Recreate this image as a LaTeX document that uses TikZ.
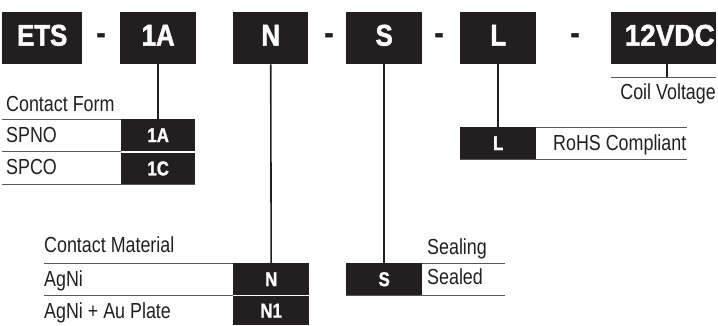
\documentclass[tikz,border=0pt]{standalone}
\usepackage{fontspec}
\newfontfamily\condf[FakeStretch=0.82]{Liberation Sans}
\newfontfamily\condbf[FakeStretch=0.86,FakeBold=1.6]{Liberation Sans Bold}
\newfontfamily\condbs[FakeStretch=0.84,FakeBold=1.4]{Liberation Sans Bold}
\newfontfamily\condbw[FakeStretch=0.93,FakeBold=1.6]{Liberation Sans Bold}
\definecolor{ink}{HTML}{231F20}
\begin{document}
\begin{tikzpicture}[x=1pt,y=-1pt,
 bigbox/.style={fill=ink,text=white,inner sep=0pt,minimum height=52pt,text depth=6pt,anchor=north west,font=\condbf\fontsize{30}{30}\selectfont},
 smallbox/.style={fill=ink,text=white,inner sep=0pt,minimum height=32pt,anchor=north west,font=\condbs\fontsize{20}{20}\selectfont},
 dashtxt/.style={text=ink,inner sep=0pt,anchor=base,font=\condbf\fontsize{30}{30}\selectfont},
 lbl/.style={text=ink,inner sep=0pt,anchor=base west,font=\condf\fontsize{21.8}{21.8}\selectfont},
 rule/.style={draw=ink!75,line width=1pt},
 conn/.style={draw=ink,line width=1.6pt}]
\useasboundingbox (0,0) rectangle (718,325);
% top row
\node[bigbox,minimum width=80pt] (ets) at (2,12) {ETS};
\node[dashtxt] (d1) at (101,43) {-};
\node[bigbox,minimum width=76pt] (ta) at (120,12) {1A};
\node[bigbox,minimum width=75pt] (tn) at (233,12) {N};
\node[dashtxt] (d2) at (329,43) {-};
\node[bigbox,minimum width=76pt] (ts) at (346,12) {S};
\node[dashtxt] (d3) at (439,43) {-};
\node[bigbox,minimum width=76pt] (tl) at (460,12) {L};
\node[dashtxt] (d4) at (575,43) {-};
\node[bigbox,minimum width=105pt,font=\condbw\fontsize{30}{30}\selectfont] (tv) at (611,12) {\hspace*{12pt}12VDC};
% contact form
\draw[rule] (2,119) -- (195,119);
\draw[rule] (2,151.5) -- (121,151.5);
\draw[rule] (2,184) -- (195,184);
\node[lbl] (cft) at (6,111) {Contact Form};
\node[smallbox,minimum width=74pt] (cfa) at (121,119) {1A};
\node[smallbox,minimum width=74pt,minimum height=31.5pt] (cfc) at (121,152.5) {1C};
\node[lbl] (spno) at (6,142.5) {SPNO};
\node[lbl] (spco) at (6,174.5) {SPCO};
\draw[conn] (ta.south) -- (cfa.north);
% coil voltage
\coordinate (cv) at (667,77);
\draw[rule] (611,77) -- (716,77);
\draw[conn] ([xshift=3pt]tv.south) -- ([xshift=3pt]tv.south |- cv);
\node[lbl,anchor=base east] (cvt) at (716,99.5) {Coil Voltage};
% RoHS
\draw[rule] (536,127) -- (687,127);
\draw[rule] (460,159) -- (687,159);
\node[smallbox,minimum width=76pt] (rl) at (460,127) {L};
\node[lbl] (rohs) at (553,150.5) {RoHS Compliant};
\draw[conn] (tl.south) -- (rl.north);
% contact material
\draw[rule] (44,263) -- (233,263);
\draw[rule] (44,295.5) -- (233,295.5);
\node[lbl] (cmt) at (44,252.5) {Contact Material};
\node[smallbox,minimum width=76pt] (mn) at (233,263) {N};
\node[smallbox,minimum width=76pt,minimum height=29pt] (mn1) at (233,296) {N1};
\node[lbl] (agni) at (44,286.5) {AgNi};
\node[lbl] (agau) at (44,318.5) {AgNi + Au Plate};
\draw[conn] (tn.south) -- (mn.north);
% sealing
\draw[rule] (422,263) -- (505,263);
\draw[rule] (346,295) -- (505,295);
\node[smallbox,minimum width=76pt] (ss) at (346,263) {S};
\node[lbl] (sealing) at (427,254) {Sealing};
\node[lbl] (sealed) at (427,284.5) {Sealed};
\draw[conn] (ts.south) -- (ss.north);
\end{tikzpicture}
\end{document}
